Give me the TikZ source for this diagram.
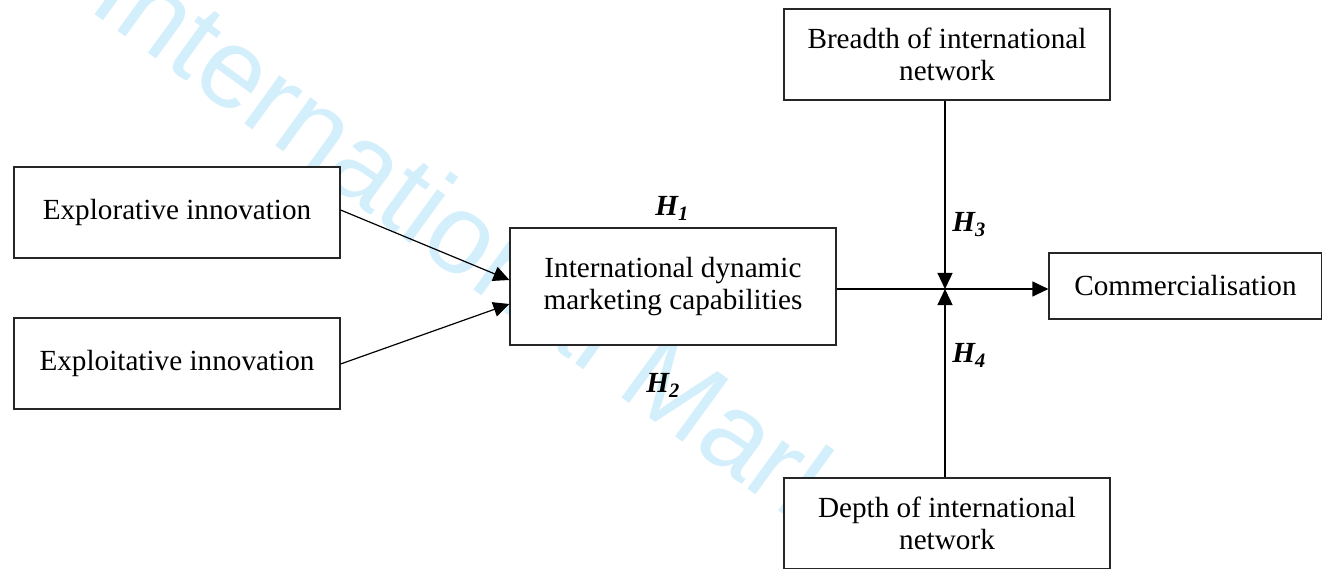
\documentclass[tikz,border=0pt]{standalone}
\usepackage{fontspec}
\setmainfont{Liberation Serif}
\newfontfamily\wmfont{Liberation Sans}
\usepackage{tikz}
\usetikzlibrary{shapes,arrows.meta,positioning}
\definecolor{wmblue}{RGB}{212,239,252}

\begin{document}
\begin{tikzpicture}[
			x=1pt, y=-1pt,
			line width=1.2pt,
			box/.style={rectangle, draw=black!85, fill=white, minimum width=326pt, minimum height=91pt, align=center, inner sep=0pt, font=\fontsize{29.2}{32}\selectfont},
			hyp/.style={inner sep=0pt, font=\fontsize{29.2}{32}\selectfont\bfseries\itshape},
			link/.style={-{Triangle[length=16pt, width=15pt]}}
		]
		\useasboundingbox (0,0) rectangle (1322,569);
		\node[rotate=-36, anchor=base west, inner sep=0pt, text=wmblue, font=\wmfont\fontsize{113}{113}\selectfont] (WM) at (86,8) {International Mark};

		\node[box] (EXR) at (177,212.5) {Explorative innovation};
		\node[box] (EXT) at (177,363.5) {Exploitative innovation};
		\node[box, minimum height=117pt] (IDMC) at (673,286.5) {International dynamic\\marketing capabilities};
		\node[box] (BRE) at (947,54.5) {Breadth of international\\network};
		\node[box] (DEP) at (947,523.5) {Depth of international\\network};
		\node[box, minimum width=273pt, minimum height=66pt] (COM) at (1185.5,286) {Commercialisation};
		\coordinate (JN) at (945,289);

		\node[hyp] (H1) at (672,208) {H\textsubscript{1}};
		\node[hyp] (H2) at (663,385) {H\textsubscript{2}};
		\node[hyp] (H3) at (969,225) {H\textsubscript{3}};
		\node[hyp] (H4) at (969,355) {H\textsubscript{4}};

		\draw[link] ([yshift=2.5pt]EXR.east) -- ([yshift=6.5pt]IDMC.west);
		\draw[link] ([yshift=-0.5pt]EXT.east) -- ([yshift=-17.5pt]IDMC.west);
		\draw (IDMC.east |- JN) -- (JN);
		\draw[link] (JN) -- (COM.west |- JN);
		\draw[link] (BRE.south -| JN) -- (JN);
		\draw[link] (DEP.north -| JN) -- (JN);
	\end{tikzpicture}
\end{document}
